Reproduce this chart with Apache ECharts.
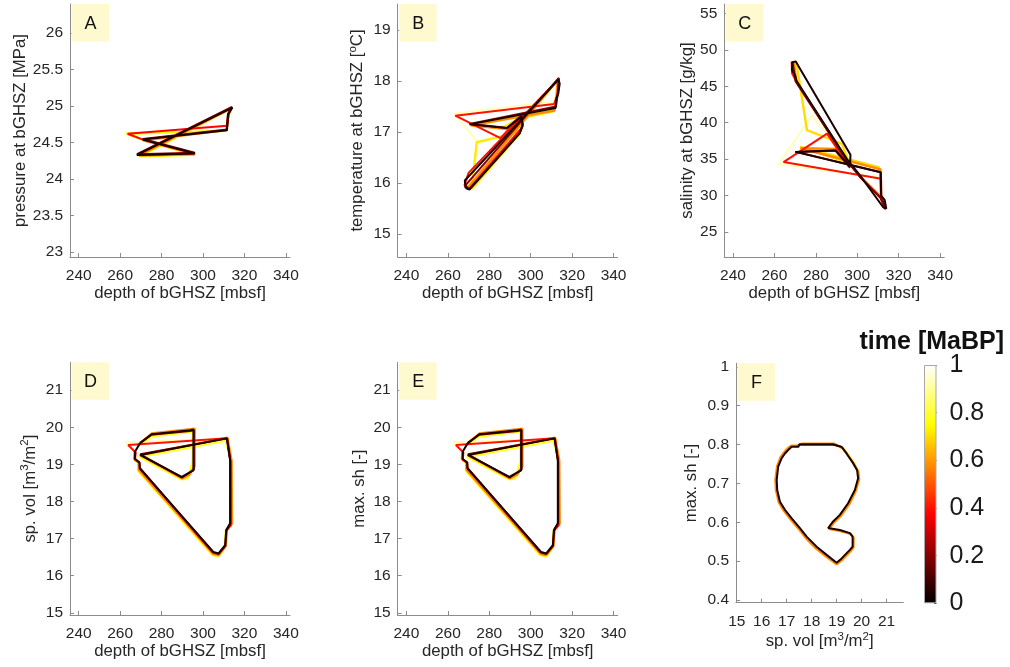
<!DOCTYPE html>
<html>
<head>
<meta charset="utf-8">
<script src="https://cdn.jsdelivr.net/npm/echarts@6/dist/echarts.min.js"></script>
<style>
  html, body { margin: 0; padding: 0; background: #fff; }
  #chart { width: 1010px; height: 667px; }
</style>
</head>
<body>
<div id="chart"></div>
<script>
// ---- Trajectories of the base of the gas hydrate stability zone (bGHSZ) ----
// Each array is one glacial cycle, tagged with its age in Ma BP (suffix).

// A: depth of bGHSZ [mbsf] vs pressure [MPa]
const pA_t92 = [[262.2,24.63],[310.8,24.66],[312,24.86],[313.5,24.96],[269.5,24.32],[295.5,24.33],[272,24.52],[262.2,24.63]];
const pA_t75 = [[269.5,24.31],[295.8,24.33],[271.8,24.53],[263,24.62],[311.2,24.66],[312.2,24.87],[313.6,24.97],[269.5,24.31]];
const pA_t58 = [[269,24.32],[296,24.34],[271.2,24.53],[311.3,24.67],[312.3,24.88],[313.8,24.97],[269,24.32]];
const pA_t38 = [[268.5,24.33],[295.8,24.35],[271,24.54],[263.6,24.62],[311.6,24.73],[312.2,24.9],[313.8,24.98],[268.5,24.33]];
const pA_t20 = [[268.2,24.34],[296,24.36],[271,24.55],[311.5,24.68],[312.4,24.9],[314,24.99],[268.2,24.34]];
const pA_t04 = [[268,24.33],[296.2,24.35],[270.8,24.54],[311.6,24.67],[312,24.88],[314.2,24.98],[268,24.33]];

// B: depth of bGHSZ [mbsf] vs temperature [degC]
const pB_t92 = [[274,16.82],[263,17.36],[311.4,17.6],[312.5,17.8],[313.5,18.02],[269,15.92],[271.5,15.9],[274,16.82]];
const pB_t75 = [[271.5,15.88],[274,16.8],[292.5,16.98],[296,17.28],[310.5,17.4],[311.8,17.45],[271.8,17.12],[287,17.1],[295.7,17.3],[296,17.1],[294.5,16.96],[271.5,15.88]];
const pB_t58 = [[269.5,15.9],[313,18.02],[312.5,17.7],[311.5,17.42],[271,17.13],[288.5,17.06],[295.5,17.3],[295.8,17.1],[294.3,16.97],[269.5,15.9]];
const pB_t40 = [[268,15.95],[270,16.2],[313.5,18.04],[313,17.75],[311.3,17.55],[263.6,17.32],[285.4,16.88],[295.5,17.32],[296,17.1],[270.2,15.88],[268,15.95]];
const pB_t20 = [[268.4,15.95],[313.6,18.06],[313.2,17.8],[312.2,17.5],[270.5,17.16],[288.5,17.08],[295.5,17.32],[296,17.12],[294.6,16.98],[270.3,15.88],[268.4,15.95]];
const pB_t04 = [[268.6,15.9],[268.2,16.05],[269,16.08],[313.4,18.03],[314,17.95],[313.3,17.75],[312.4,17.65],[312,17.47],[270.5,17.15],[288.5,17.08],[295.5,17.3],[296.2,17.15],[294.8,16.98],[270.5,15.87],[268.6,15.9]];

// C: depth of bGHSZ [mbsf] vs salinity [g/kg]
const pC_t92 = [[295.5,34.8],[278.1,41.0],[262,34.3],[310.5,32.5]];
const pC_t75 = [[270.5,48.5],[275.7,39.0],[292.6,37.1],[296,34.5],[272.4,36.7],[310.3,33.9],[311,33.4]];
const pC_t58 = [[269.5,48.2],[270.5,45.6],[295,34.9],[301.5,32.6],[311.2,29.9],[313.5,28.3],[311.5,30],[311.2,33.6],[272.5,36.5],[290,36.4],[296.3,34.3]];
const pC_t40 = [[268.3,48.4],[268.5,46.8],[270.3,45.8],[295,34.85],[301.5,32.5],[311.2,29.7],[313.5,28.1],[311.6,29.5],[311.5,32.3],[264.4,34.6],[285.4,38.5],[296,34.0]];
const pC_t20 = [[268.8,48.2],[270.2,45.7],[295,34.8],[301.5,32.5],[311.2,29.7],[313.6,28.2],[311.4,30],[311.3,33.2],[270.8,36.0],[289.4,36.2],[296.5,33.8]];
const pC_t04 = [[296.5,34.0],[289.4,36.2],[270.0,36.0],[311.3,33.2],[311.5,30.0],[313.2,29.4],[314,28.2],[312.5,28.4],[301.5,32.7],[295,35.0],[270.8,45.7],[270,46.5],[268.5,47.2],[268.6,48.3],[270.3,48.4],[296.7,35.6],[296.5,34.0]];

// D/E: depth of bGHSZ [mbsf] vs specific hydrate volume [m3/m2] (max. saturation follows the same path)
const pD_t92 = [[269.2,19.2],[262.5,19.6],[311,19.68]];
const pD_t78 = [[269,19.5],[275,19.75],[294,19.88],[295,19.88],[295,19.05],[292.5,18.62],[289.5,18.6],[269.5,19.2],[311,19.64],[313.6,19.1],[313.6,17.4],[311,17.2],[310.5,16.75],[307.5,16.52],[304.5,16.56],[268.8,18.82],[268.8,19.05],[266.8,19.12]];
const pD_t58 = [[269.3,19.55],[275.2,19.83],[294,19.95],[296,19.96],[296,18.95],[293.5,18.72],[290,18.62],[269.5,19.25],[311.8,19.72],[313.8,19.1],[314,17.4],[311.6,17.25],[311,16.8],[307.5,16.55],[305,16.58],[269,18.85],[269,19.05],[266.8,19.15],[267,19.35]];
const pD_t40 = [[304.8,16.62],[269.6,18.88],[269.4,19.05],[267.2,19.12],[267.5,19.32],[263.9,19.52],[311.7,19.7],[313.3,19.05],[313.4,17.35],[311.4,17.22]];
const pD_t20 = [[269.6,19.58],[275.2,19.8],[293.8,19.9],[295.6,19.92],[295.6,18.86],[289.8,18.64],[269.7,19.27],[311.6,19.7],[313.2,19.1],[313.2,17.4],[311.3,17.22],[310.8,16.8],[307.5,16.58],[305,16.62],[269.6,18.9]];
const pD_t04 = [[269.5,19.56],[275.2,19.81],[293.8,19.92],[295.4,19.94],[295.4,18.84],[289.7,18.66],[269.8,19.25],[311.5,19.7],[313.1,19.11],[313.1,17.41],[311.2,17.23],[310.7,16.82],[307.5,16.6],[305,16.64],[269.5,18.89],[269.3,19.05],[267.1,19.15],[267.3,19.35],[269.5,19.56]];

// F: specific hydrate volume [m3/m2] vs max. saturation [-]
const pF_t80 = [[18.9,0.80],[19.25,0.79],[19.45,0.775],[19.7,0.75],[19.88,0.73]];
const pF_t58 = [[17.6,0.802],[18.9,0.802],[19.25,0.79],[19.45,0.772],[19.7,0.75],[19.87,0.73],[19.9,0.71],[19.76,0.68],[19.5,0.646],[19.15,0.615],[18.9,0.6],[18.7,0.583],[19.15,0.577],[19.56,0.57],[19.68,0.56],[19.67,0.535],[19.55,0.525],[19.22,0.503],[19.0,0.492],[18.58,0.512],[18.17,0.533],[17.76,0.56],[17.48,0.583],[17.15,0.608],[16.88,0.63],[16.68,0.652],[16.57,0.683],[16.55,0.71],[16.62,0.745],[16.76,0.768],[16.9,0.78],[17.03,0.79],[17.18,0.797],[17.44,0.797],[17.48,0.802],[17.6,0.802]];
const pF_t25 = [[17.5,0.80],[18.86,0.80],[19.2,0.794]];
const pF_t04 = [[17.66,0.80],[18.86,0.80],[19.2,0.794],[19.4,0.777],[19.66,0.752],[19.82,0.734],[19.86,0.713],[19.73,0.683],[19.46,0.649],[19.13,0.619],[18.86,0.602],[18.66,0.585],[19.13,0.580],[19.53,0.572],[19.64,0.563],[19.64,0.537],[19.53,0.529],[19.2,0.507],[19.0,0.496],[18.6,0.516],[18.2,0.537],[17.8,0.563],[17.53,0.585],[17.2,0.61],[16.93,0.632],[16.73,0.653],[16.62,0.683],[16.6,0.709],[16.66,0.743],[16.8,0.765],[16.93,0.777],[17.06,0.786],[17.2,0.794],[17.47,0.794],[17.5,0.80],[17.66,0.80]];

// ---- Axis ticks ----
const depthTicks = [240, 260, 280, 300, 320, 340];
const pressureTicks = [23, 23.5, 24, 24.5, 25, 25.5, 26];
const temperatureTicks = [15, 16, 17, 18, 19];
const salinityTicks = [25, 30, 35, 40, 45, 50, 55];
const volumeTicks = [15, 16, 17, 18, 19, 20, 21];
const saturationTicks = [0.4, 0.5, 0.6, 0.7, 0.8, 0.9, 1];
const timeTicks = [0, 0.2, 0.4, 0.6, 0.8, 1];

// ---- MATLAB-style "hot" colour map ----
function hot(t) {
  const c = v => Math.min(1, Math.max(0, v));
  const r = c(t / 0.375), g = c((t - 0.375) / 0.375), b = c((t - 0.75) / 0.25);
  return 'rgb(' + Math.round(r * 255) + ',' + Math.round(g * 255) + ',' + Math.round(b * 255) + ')';
}

const FONT = "'Liberation Sans', Arial, Helvetica, sans-serif";
const AXIS_GRAY = '#8c8c8c';
const LABEL_COLOR = '#262626';

const panels = [
  { key: 'A', rect: { left: 70, top: 4, width: 220, height: 253 },
    x: { min: 235.8, max: 342, ticks: depthTicks, name: 'depth of bGHSZ [mbsf]', gap: 26 },
    y: { min: 22.93, max: 26.4, ticks: pressureTicks, name: 'pressure at bGHSZ [MPa]', gap: 40 },
    tracks: [[0.92, pA_t92], [0.75, pA_t75], [0.58, pA_t58], [0.38, pA_t38], [0.2, pA_t20], [0.04, pA_t04]] },
  { key: 'B', rect: { left: 397.7, top: 4, width: 220, height: 253 },
    x: { min: 235.8, max: 342, ticks: depthTicks, name: 'depth of bGHSZ [mbsf]', gap: 26 },
    y: { min: 14.55, max: 19.51, ticks: temperatureTicks, name: 'temperature at bGHSZ [{sup|o}C]', gap: 29 },
    tracks: [[0.92, pB_t92], [0.72, pB_t75], [0.58, pB_t58], [0.4, pB_t40], [0.2, pB_t20], [0.04, pB_t04]] },
  { key: 'C', rect: { left: 724.3, top: 4, width: 220, height: 253 },
    x: { min: 235.8, max: 342, ticks: depthTicks, name: 'depth of bGHSZ [mbsf]', gap: 26 },
    y: { min: 21.57, max: 56.3, ticks: salinityTicks, name: 'salinity at bGHSZ [g/kg]', gap: 26 },
    tracks: [[0.92, pC_t92], [0.7, pC_t75], [0.58, pC_t58], [0.4, pC_t40], [0.2, pC_t20], [0.04, pC_t04]] },
  { key: 'D', rect: { left: 70, top: 362.3, width: 220, height: 252.7 },
    x: { min: 235.8, max: 342, ticks: depthTicks, name: 'depth of bGHSZ [mbsf]', gap: 26 },
    y: { min: 14.94, max: 21.75, ticks: volumeTicks, name: 'sp. vol [m{sup|3}/m{sup|2}]', gap: 29 },
    tracks: [[0.92, pD_t92], [0.78, pD_t78], [0.58, pD_t58], [0.4, pD_t40], [0.2, pD_t20], [0.04, pD_t04]] },
  { key: 'E', rect: { left: 397.7, top: 362.3, width: 220, height: 252.7 },
    x: { min: 235.8, max: 342, ticks: depthTicks, name: 'depth of bGHSZ [mbsf]', gap: 26 },
    y: { min: 14.94, max: 21.75, ticks: volumeTicks, name: 'max. sh [-]', gap: 30 },
    tracks: [[0.92, pD_t92], [0.78, pD_t78], [0.58, pD_t58], [0.4, pD_t40], [0.2, pD_t20], [0.04, pD_t04]] },
  { key: 'F', rect: { left: 736, top: 363.3, width: 167.3, height: 239.4 },
    x: { min: 14.97, max: 21.67, ticks: volumeTicks, name: 'sp. vol [m{sup|3}/m{sup|2}]', gap: 27 },
    y: { min: 0.393, max: 1.009, ticks: saturationTicks, name: 'max. sh [-]', gap: 36 },
    tracks: [[0.8, pF_t80], [0.58, pF_t58], [0.25, pF_t25], [0.04, pF_t04]] }
];

const nameRich = {
  sup: { fontSize: 11.5, fontFamily: FONT, color: LABEL_COLOR, padding: [0, 0, 10, 0] }
};

function axisCommon(spec) {
  return {
    type: 'value', min: spec.min, max: spec.max,
    splitLine: { show: false },
    axisLine: { show: true, lineStyle: { color: AXIS_GRAY, width: 1 } },
    axisTick: { show: true, inside: true, length: 4, customValues: spec.ticks, lineStyle: { color: AXIS_GRAY } },
    axisLabel: { customValues: spec.ticks, color: LABEL_COLOR, fontSize: 15.5, fontFamily: FONT },
    name: spec.name, nameLocation: 'middle', nameGap: spec.gap,
    nameTextStyle: { color: LABEL_COLOR, fontSize: 16.8, fontFamily: FONT, rich: nameRich }
  };
}

const grids = [], xAxes = [], yAxes = [], series = [], graphics = [];
panels.forEach((p, i) => {
  grids.push(Object.assign({ containLabel: false }, p.rect));
  const xa = axisCommon(p.x);
  xa.gridIndex = i; xa.axisLabel.margin = 11;
  xAxes.push(xa);
  const ya = axisCommon(p.y);
  ya.gridIndex = i; ya.axisLabel.margin = 7;
  yAxes.push(ya);
  p.tracks.forEach(([t, pts]) => {
    series.push({
      type: 'line', xAxisIndex: i, yAxisIndex: i, data: pts,
      showSymbol: false, symbol: 'none', silent: true, animation: false,
      lineStyle: { color: hot(t), width: t > 0.85 ? 1.6 : (t > 0.5 ? 2.4 : 2) },
      z: 2 + (1 - t)
    });
  });
  // panel letter on a pale yellow tab
  graphics.push({
    type: 'rect', left: p.rect.left + 1.5, top: p.rect.top,
    shape: { width: 37.5, height: 37.5 }, style: { fill: '#FFF9CF' }, z: 10
  });
  graphics.push({
    type: 'text', x: p.rect.left + 20.5, y: p.rect.top + 20,
    style: { text: p.key, font: '18px ' + FONT, fill: '#111', textAlign: 'center', textVerticalAlign: 'middle' }, z: 11
  });
});

// colour bar
const cbIndex = panels.length;
grids.push({ left: 924, top: 365, width: 12.5, height: 238.3 });
xAxes.push({ type: 'category', gridIndex: cbIndex, data: ['time'], show: false });
yAxes.push({
  type: 'value', gridIndex: cbIndex, min: 0, max: 1, position: 'right',
  splitLine: { show: false },
  axisLine: { show: false },
  axisTick: { show: true, inside: true, length: 2.5, customValues: timeTicks, lineStyle: { color: '#444' } },
  axisLabel: { customValues: timeTicks, color: '#1a1a1a', fontSize: 25, fontFamily: FONT, margin: 13 }
});
const hotStops = [0, 0.375, 0.75, 1].map(t => ({ offset: 1 - t, color: hot(t) }));
series.push({
  type: 'bar', xAxisIndex: cbIndex, yAxisIndex: cbIndex, data: [1], barWidth: '100%',
  silent: true, animation: false,
  itemStyle: { color: new echarts.graphic.LinearGradient(0, 0, 0, 1, hotStops), borderColor: '#a8a8a8', borderWidth: 1 }
});
graphics.push({
  type: 'text', x: 1004, y: 342,
  style: { text: 'time [MaBP]', font: 'bold 25px ' + FONT, fill: '#111', textAlign: 'right', textVerticalAlign: 'middle' }
});

const chart = echarts.init(document.getElementById('chart'), null, { renderer: 'canvas' });
chart.setOption({
  backgroundColor: '#ffffff',
  animation: false,
  textStyle: { fontFamily: FONT },
  grid: grids, xAxis: xAxes, yAxis: yAxes, series: series, graphic: graphics
});
</script>
</body>
</html>
